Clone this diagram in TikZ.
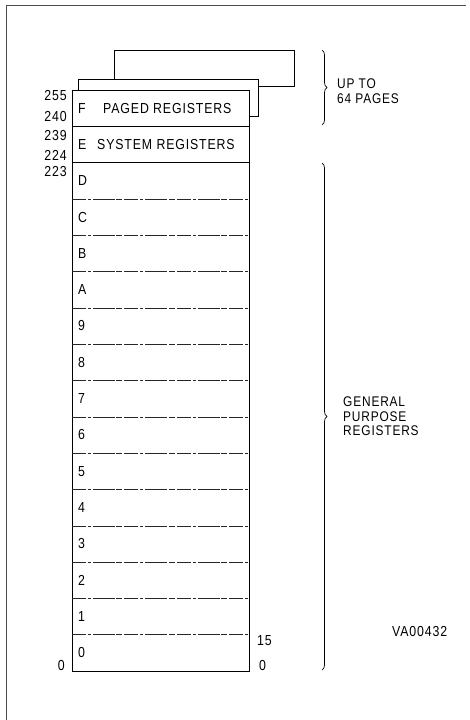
\documentclass[tikz,border=0pt]{standalone}
\usepackage{fontspec}
\setmainfont{Liberation Sans}[LetterSpace=6, FakeStretch=0.85]
\usetikzlibrary{decorations.pathreplacing}
\begin{document}
\begin{tikzpicture}[x=1pt,y=-1pt,
  every node/.style={font=\fontsize{14.5}{14.5}\selectfont, inner sep=0pt},
  frameline/.style={line width=0.8pt, black!70},
  boxline/.style={line width=0.8pt},
  pagebox/.style={draw, line width=0.8pt, fill=white, minimum width=180pt, minimum height=36.5pt},
  rowcell/.style={minimum width=177pt, minimum height=36.3pt},
  rowlbl/.style={anchor=west},
  divider/.style={line width=0.55pt, black!85, dash pattern=on 14pt off 2pt on 3pt off 2pt on 22pt off 1.5pt on 6pt off 2pt},
  numl/.style={anchor=east},
  numr/.style={anchor=west},
  bracelbl/.style={anchor=north west, align=left, font=\fontsize{14}{14.5}\selectfont},
  bracedeco/.style={decorate, decoration={brace, amplitude=5pt}, line width=0.7pt}
]
\useasboundingbox (0,0) rectangle (470,720);
\draw[frameline] (6,720) -- (6,5) -- (466,5);

% back pages
\node[pagebox] (p2) at (204,68.5) {};
\node[pagebox] (p1) at (168,98) {};

% main box
\node[draw, boxline, fill=white, minimum width=177pt, minimum height=581pt] (main) at (160.5,380.5) {};

% general purpose rows
\foreach \t [count=\i from 0] in {0,1,2,3,4,5,6,7,8,9,A,B,C,D} {
  \pgfmathsetmacro\yc{90+(15-\i)*36.3+18.15}
  \node[rowcell] (r\i) at (160.5,\yc) {};
  \node[rowlbl] (l\i) at (78,\yc) {\t};
}
\node[rowcell] (r14) at (160.5,144.45) {};
\node[rowcell] (r15) at (160.5,108.15) {};
\node[rowlbl] (l15) at (78,109) {F};
\node[rowlbl] (t15) at (103,109) {PAGED REGISTERS};
\node[rowlbl] (l14) at (78,145) {E};
\node[rowlbl] (t14) at (97,145) {SYSTEM REGISTERS};

\draw[boxline] (r15.south west) -- (r15.south east);
\draw[boxline] (r14.south west) -- (r14.south east);
\foreach \i in {1,...,13} {
  \draw[divider] (r\i.south west) -- (r\i.south east);
}

% address numbers
\node[numl] (n255) at (67,96) {255};
\node[numl] (n240) at (67,117) {240};
\node[numl] (n239) at (67,136) {239};
\node[numl] (n224) at (67,155) {224};
\node[numl] (n223) at (67,172) {223};
\node[numl] (n0) at (65,666) {0};
\node[numr] (b15) at (257,641) {15};
\node[numr] (b0) at (259,666) {0};

% braces
\coordinate (ba1) at (322,50);
\coordinate (bb1) at (322,125);
\draw[bracedeco] (ba1) -- (bb1);
\node[bracelbl] (up) at (337,79) {UP TO\\64 PAGES};
\coordinate (ba2) at (322,163);
\coordinate (bb2) at (322,670);
\draw[bracedeco] (ba2) -- (bb2);
\node[bracelbl] (gp) at (343,397) {GENERAL\\PURPOSE\\REGISTERS};

\node[anchor=west] (va) at (392,632) {VA00432};
\end{tikzpicture}
\end{document}
